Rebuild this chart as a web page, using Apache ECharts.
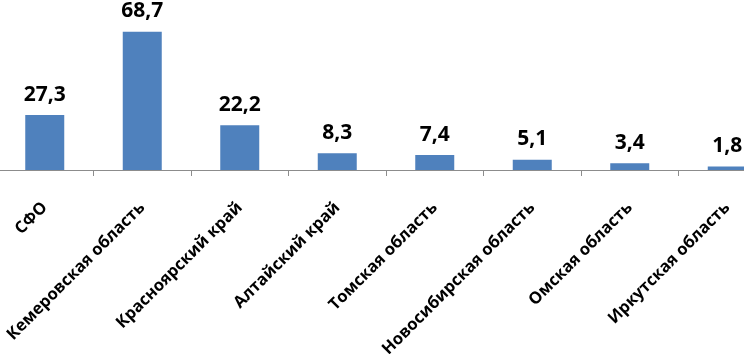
<!DOCTYPE html>
<html>
<head>
<meta charset="utf-8">
<script src="https://cdn.jsdelivr.net/npm/echarts@6/dist/echarts.min.js"></script>
<style>
  html, body { margin: 0; padding: 0; background: #fff; }
  #chart { width: 744px; height: 354px; }
</style>
</head>
<body>
<div id="chart"></div>
<script>
// регионы
const regions = ['СФО', 'Кемеровская область', 'Красноярский край', 'Алтайский край',
  'Томская область', 'Новосибирская область', 'Омская область', 'Иркутская область']
// значения
const values = [27.3, 68.7, 22.2, 8.3, 7.4, 5.1, 3.4, 1.8]

const chart = echarts.init(document.getElementById('chart'))
const option = {
  animation: false,
  grid: {
    left: -4,
    right: -32,
    top: 9,
    bottom: 184,
    containLabel: false,
    outerBoundsMode: 'none'
  },
  xAxis: {
    type: 'category',
    data: regions,
    axisLine: { lineStyle: { color: '#8c8c8c', width: 1 } },
    axisTick: { show: true, length: 6, lineStyle: { color: '#8c8c8c' } },
    axisLabel: {
      interval: 0,
      rotate: 45,
      margin: 35,
      color: '#000',
      fontFamily: 'Open Sans',
      fontWeight: 'bold',
      fontSize: 16.5
    }
  },
  yAxis: {
    type: 'value',
    min: 0,
    max: 80,
    show: false,
    splitLine: { show: false }
  },
  series: [
    {
      type: 'bar',
      data: values,
      barWidth: 39,
      itemStyle: { color: '#4F81BD' },
      label: {
        show: true,
        position: 'top',
        distance: 10,
        color: '#000',
        fontFamily: 'Open Sans',
        fontWeight: 'bold',
        fontSize: 21,
        formatter: p => String(p.value).replace('.', ',')
      }
    }
  ]
}
chart.setOption(option)
</script>
</body>
</html>
